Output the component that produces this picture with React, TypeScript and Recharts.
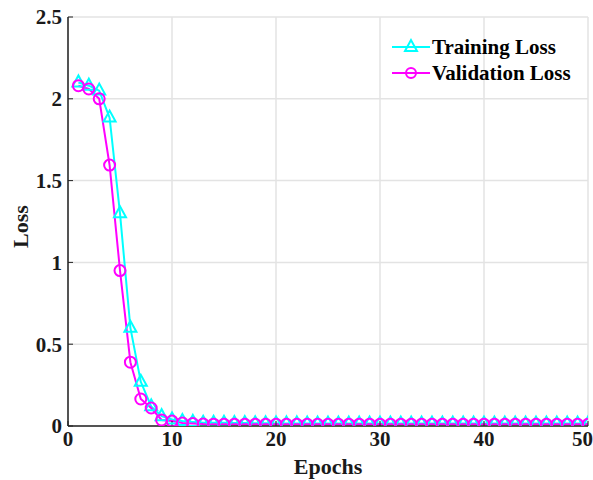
import React from 'react';
import { LineChart, Line, XAxis, YAxis, CartesianGrid } from 'recharts';

const epochs: number[] = Array.from({ length: 50 }, (_, i) => i + 1);

const trainingLoss: number[] = [
  2.10, 2.08, 2.05, 1.885, 1.30, 0.60, 0.27, 0.12, 0.06, 0.04,
  0.03, 0.025, 0.02, 0.02, 0.02, 0.018, 0.018, 0.017, 0.017, 0.016,
  0.016, 0.016, 0.015, 0.015, 0.015, 0.015, 0.015, 0.015, 0.015, 0.015,
  0.015, 0.015, 0.015, 0.015, 0.015, 0.015, 0.015, 0.015, 0.015, 0.015,
  0.015, 0.015, 0.015, 0.015, 0.015, 0.015, 0.015, 0.015, 0.015, 0.015,
];

const validationLoss: number[] = [
  2.08, 2.06, 2.00, 1.595, 0.95, 0.39, 0.165, 0.11, 0.037, 0.03,
  0.018, 0.015, 0.012, 0.011, 0.01, 0.01, 0.01, 0.01, 0.01, 0.01,
  0.01, 0.01, 0.01, 0.01, 0.01, 0.01, 0.01, 0.01, 0.01, 0.01,
  0.01, 0.01, 0.01, 0.01, 0.01, 0.01, 0.01, 0.01, 0.01, 0.01,
  0.01, 0.01, 0.01, 0.01, 0.01, 0.01, 0.01, 0.01, 0.01, 0.01,
];

const xTicks: number[] = [0, 10, 20, 30, 40, 50];
const yTicks: number[] = [0, 0.5, 1, 1.5, 2, 2.5];

const seriesNames = ['Training Loss', 'Validation Loss'];
const CYAN = '#00FFFF';
const MAGENTA = '#FF00FF';
const FONT = '"Liberation Serif", "Times New Roman", serif';

const data = epochs.map((e, i) => ({
  epoch: e,
  train: trainingLoss[i],
  val: validationLoss[i],
}));

const TriangleDot = (props: any) => {
  const { cx, cy, index } = props;
  if (cx == null || cy == null) return <g key={`t-${index}`} />;
  const pts = `${cx},${cy - 7} ${cx - 6},${cy + 4} ${cx + 6},${cy + 4}`;
  return <polygon key={`t-${index}`} points={pts} fill="none" stroke={CYAN} strokeWidth={2} />;
};

const CircleDot = (props: any) => {
  const { cx, cy, index } = props;
  if (cx == null || cy == null) return <g key={`c-${index}`} />;
  return <circle key={`c-${index}`} cx={cx} cy={cy} r={5.5} fill="none" stroke={MAGENTA} strokeWidth={2} />;
};

const LegendBox = () => (
  <svg width={210} height={60} style={{ position: 'absolute', left: 390, top: 35, overflow: 'visible' }}>
    <line x1={2} y1={12} x2={40} y2={12} stroke={CYAN} strokeWidth={2} />
    <polygon points="21,5 15,16 27,16" fill="none" stroke={CYAN} strokeWidth={2} />
    <text x={42} y={19} fontFamily={FONT} fontWeight="bold" fontSize={21} fill="#000">
      {seriesNames[0]}
    </text>
    <line x1={2} y1={38} x2={40} y2={38} stroke={MAGENTA} strokeWidth={2} />
    <circle cx={21} cy={38} r={5} fill="none" stroke={MAGENTA} strokeWidth={2} />
    <text x={42} y={45} fontFamily={FONT} fontWeight="bold" fontSize={21} fill="#000">
      {seriesNames[1]}
    </text>
  </svg>
);

const tickStyle = { fontFamily: FONT, fontWeight: 'bold' as const, fontSize: 21, fill: '#1a1a1a' };

export default function App() {
  return (
    <div style={{ position: 'absolute', left: 0, top: 0, width: 593, height: 480, background: '#fff', overflow: 'hidden' }}>
      <LineChart width={593} height={480} data={data} margin={{ top: 17, right: 5, bottom: 0, left: 0 }}>
        <CartesianGrid stroke="#e3e3e3" strokeWidth={1.5} />
        <XAxis
          dataKey="epoch"
          type="number"
          domain={[0, 50]}
          ticks={xTicks}
          allowDataOverflow
          height={54}
          axisLine={{ stroke: '#222', strokeWidth: 1.5 }}
          tickLine={{ stroke: '#222' }}
          tickSize={-5}
          tickMargin={10}
          tick={tickStyle}
          label={(p: any) => {
            const vb = p.viewBox;
            return (
              <text x={vb.x + vb.width / 2} y={vb.y + 48} textAnchor="middle" fontFamily={FONT} fontWeight="bold" fontSize={22} fill="#1a1a1a">
                Epochs
              </text>
            );
          }}
        />
        <YAxis
          type="number"
          domain={[0, 2.5]}
          ticks={yTicks}
          allowDataOverflow
          width={68}
          axisLine={{ stroke: '#222', strokeWidth: 1.5 }}
          tickLine={{ stroke: '#222' }}
          tickSize={-5}
          tickMargin={11}
          tick={tickStyle}
          tickFormatter={(v: number) => String(v)}
          label={(p: any) => {
            const vb = p.viewBox;
            const cx = 20;
            const cy = vb.y + vb.height / 2 + 5;
            return (
              <text x={cx} y={cy} transform={`rotate(-90, ${cx}, ${cy})`} textAnchor="middle" dominantBaseline="central" fontFamily={FONT} fontWeight="bold" fontSize={22} fill="#1a1a1a">
                Loss
              </text>
            );
          }}
        />
        <Line
          type="linear"
          dataKey="train"
          name={seriesNames[0]}
          stroke={CYAN}
          strokeWidth={2}
          dot={<TriangleDot />}
          isAnimationActive={false}
        />
        <Line
          type="linear"
          dataKey="val"
          name={seriesNames[1]}
          stroke={MAGENTA}
          strokeWidth={2}
          dot={<CircleDot />}
          isAnimationActive={false}
        />
      </LineChart>
      <LegendBox />
    </div>
  );
}
